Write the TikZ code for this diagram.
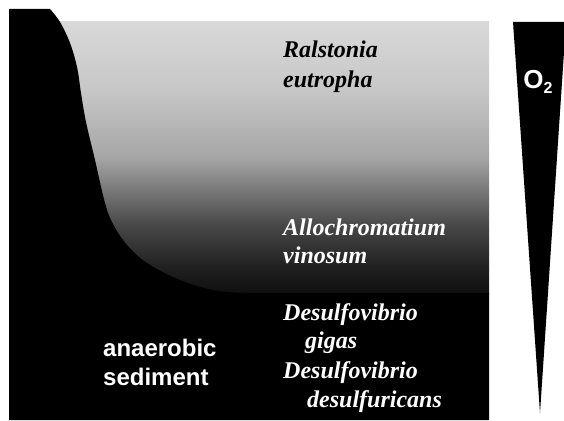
\documentclass[tikz,border=0pt]{standalone}
\usepackage{fontspec}
\setmainfont{Liberation Serif}
\setsansfont{Liberation Sans}
\colorlet{sedcol}{black}
\colorlet{labelcol}{white}
\colorlet{darklabelcol}{black}
\pgfdeclareverticalshading{watershade}{100bp}{%
  color(0bp)=(black!94); color(25bp)=(black!94); color(30bp)=(black!87);
  color(37.5bp)=(black!72); color(50bp)=(black!35); color(62.5bp)=(black!22);
  color(75bp)=(black!15); color(100bp)=(black!15)}
\tikzset{
  species/.style={font=\fontsize{24}{29}\selectfont\bfseries\itshape,
    text=labelcol, inner sep=0pt, anchor=base west},
  sedlabel/.style={font=\fontsize{24}{29}\selectfont\sffamily\bfseries,
    text=labelcol, inner sep=0pt, anchor=base west}
}
\begin{document}
\begin{tikzpicture}[x=1pt, y=-1pt]

  \useasboundingbox (0,0) rectangle (564,420);

  % Water column, light at the top, dark near the sediment.
  \shade[shading=watershade] (55,22) rectangle (489,293);

  % Anaerobic sediment.
  \fill[sedcol] (9,9) -- plot[smooth, tension=0.6] coordinates {
      (50,9) (60,22) (70,43) (77,67) (81,93) (86,122) (95,160)
      (105,203) (113,224) (127,245) (147,263) (180,280) (213,290)
      (247,293) (300,293)}
    -- (489,293) -- (489,420) -- (9,420) -- cycle;

  % Oxygen wedge.
  \fill[sedcol] (513,22) -- (566,22) -- (540,413) -- cycle;
  \node[font=\fontsize{26}{30}\selectfont\sffamily\bfseries, text=labelcol,
    inner sep=0pt] (oxygen) at (538,82)
    {O\raisebox{-5pt}{\fontsize{16}{16}\selectfont 2}};

  % Species labels.
  \node[species, text=darklabelcol] (ralstonia) at (283,58) {Ralstonia};
  \node[species, text=darklabelcol] (eutropha) at (283,87) {eutropha};
  \node[species] (allochromatium) at (283,235) {Allochromatium};
  \node[species] (vinosum) at (283,263) {vinosum};
  \node[species] (desulfo1) at (283,320) {Desulfovibrio};
  \node[species] (gigas) at (305,348) {gigas};
  \node[species] (desulfo2) at (283,378) {Desulfovibrio};
  \node[species] (desulfuricans) at (307,407) {desulfuricans};

  % Sediment label.
  \node[sedlabel] (anaerobic) at (103,356) {anaerobic};
  \node[sedlabel] (sediment) at (103,385) {sediment};

\end{tikzpicture}
\end{document}
